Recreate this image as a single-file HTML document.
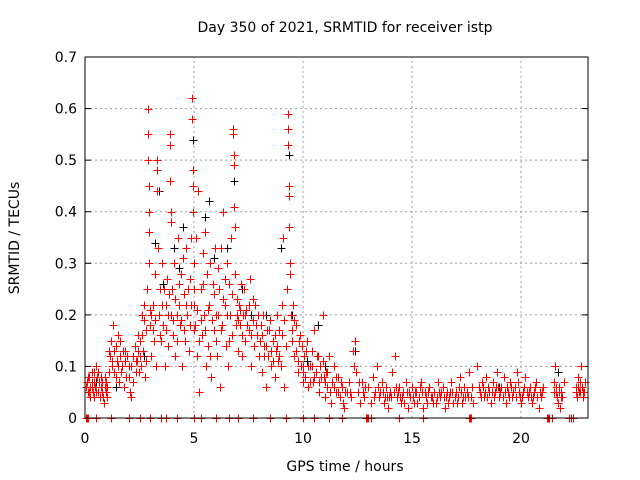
<!DOCTYPE html>
<html><head><meta charset="utf-8"><style>
body{margin:0;background:#fff}
svg{display:block;font-family:"DejaVu Sans","Liberation Sans",sans-serif}
</style></head><body>
<svg id="chart" width="640" height="480" viewBox="0 0 640 480">
<rect width="640" height="480" fill="#fff"/>
<text x="345" y="32" font-size="14" text-anchor="middle">Day 350 of 2021, SRMTID for receiver istp</text>
<text x="345" y="471" font-size="14" text-anchor="middle">GPS time / hours</text>
<text transform="translate(19,238) rotate(-90)" font-size="14" text-anchor="middle">SRMTID / TECUs</text>
<g id="grid"></g><g id="ticks"></g><g id="blk"></g><g id="red"></g>
<rect x="85" y="57" width="503" height="361" fill="none" stroke="#000" stroke-width="1"/>
</svg>
<script>
const xTicks=[0,5,10,15,20];
const yTicks=[0,0.1,0.2,0.3,0.4,0.5,0.6,0.7];
const yTickLabels=["0","0.1","0.2","0.3","0.4","0.5","0.6","0.7"];
const blackData=[[0.5,.07],[1.4,.06],[2.7,.12],[3.2,.34],[3.4,.44],[4.1,.33],[4.5,.37],[4.95,.54],[5.5,.39],[5.7,.42],[6.5,.33],[6.85,.46],[7.2,.25],[8.3,.2],[9.0,.33],[9.35,.51],[9.5,.2],[10.7,.18],[11.0,.1],[12.4,.13],[21.7,.09],[3.6,.26],[4.3,.29],[5.9,.31],[7.6,.2],[10.2,.11],[16,.05],[19,.06]];
const redData=[[0.05,.06],[0.1,.07],[0.15,.05],[0.2,.08],[0.25,.06],[0.3,.09],[0.35,.05],[0.4,.07],[0.45,.06],[0.5,.1],[0.55,.08],[0.6,.05],[0.65,.07],[0.7,.04],[0.75,.06],[0.8,.05],[0.85,.03],[0.9,.06],[0.95,.05],[1.0,.04],[0.2,.05],[0.4,.04],[0.6,.09],[0.8,.07],[1.0,.06],[0.3,.07],
[1.1,.09],[1.15,.12],[1.2,.15],[1.25,.1],[1.3,.18],[1.35,.13],[1.4,.08],[1.45,.11],[1.5,.16],[1.55,.07],[1.6,.12],[1.65,.09],[1.7,.1],[1.8,.06],[1.85,.13],[1.9,.08],[2.0,.1],[2.05,.05],[2.1,.04],[2.2,.12],[2.3,.14],[2.35,.09],[2.4,.11],[2.45,.13],
[2.5,.15],[2.55,.1],[2.6,.2],[2.65,.13],[2.7,.22],[2.75,.08],[2.8,.17],[2.85,.25],[2.9,.6],[2.9,.55],[2.9,.5],[2.92,.45],[2.93,.4],[2.95,.36],[2.95,.3],[2.97,.21],[3.0,.18],
[3.05,.12],[3.1,.22],[3.15,.15],[3.2,.28],[3.25,.1],[3.3,.5],[3.3,.48],[3.32,.44],[3.35,.33],[3.4,.2],[3.45,.25],[3.5,.15],[3.55,.3],[3.6,.18],[3.65,.1],[3.7,.22],[3.75,.27],[3.8,.14],[3.9,.55],[3.9,.53],[3.92,.46],[3.93,.4],[3.95,.38],[3.95,.2],[4.0,.25],
[4.05,.16],[4.1,.3],[4.15,.12],[4.2,.2],[4.25,.35],[4.3,.22],[4.35,.18],[4.4,.28],[4.45,.1],[4.5,.31],[4.55,.24],[4.6,.15],[4.65,.33],[4.7,.2],[4.75,.13],[4.8,.27],[4.85,.35],[4.9,.62],[4.92,.58],[4.95,.48],[4.95,.45],[4.97,.4],[5.0,.3],[5.0,.22],
[5.05,.18],[5.1,.35],[5.15,.12],[5.2,.44],[5.25,.05],[5.3,.25],[5.35,.16],[5.4,.32],[5.45,.2],[5.5,.36],[5.55,.1],[5.6,.28],[5.65,.14],[5.7,.22],[5.75,.3],[5.8,.08],[5.85,.26],[5.9,.17],[5.95,.33],[6.0,.2],
[6.05,.12],[6.1,.29],[6.15,.25],[6.2,.06],[6.25,.33],[6.3,.18],[6.35,.4],[6.4,.22],[6.45,.14],[6.5,.3],[6.55,.1],[6.6,.26],[6.65,.2],[6.7,.35],[6.75,.16],[6.8,.56],[6.8,.55],[6.82,.51],[6.82,.49],[6.85,.41],[6.87,.37],[6.9,.28],[6.95,.2],[7.0,.13],
[7.05,.22],[7.1,.18],[7.15,.26],[7.2,.12],[7.25,.2],[7.3,.25],[7.35,.15],[7.4,.21],[7.5,.17],[7.55,.27],[7.6,.1],[7.7,.19],[7.75,.14],[7.8,.22],[7.9,.16],[8.0,.12],
[8.05,.18],[8.1,.09],[8.15,.2],[8.2,.14],[8.3,.06],[8.35,.17],[8.4,.12],[8.5,.19],[8.55,.1],[8.6,.15],[8.7,.08],[8.75,.13],[8.8,.2],[8.85,.11],[8.9,.17],[9.0,.1],[9.05,.22],[9.1,.35],[9.15,.06],
[9.3,.59],[9.3,.56],[9.32,.53],[9.35,.45],[9.35,.43],[9.37,.37],[9.4,.3],[9.42,.28],[9.25,.25],[9.45,.2],[9.5,.15],[9.55,.22],[9.6,.12],[9.7,.18],[9.75,.09],[9.8,.15],[9.9,.1],[9.95,.14],[10.0,.07],
[10.05,.12],[10.1,.08],[10.2,.15],[10.25,.06],[10.3,.1],[10.4,.13],[10.45,.07],[10.5,.17],[10.6,.09],[10.7,.12],[10.75,.05],[10.8,.1],[10.9,.2],[10.95,.08],[11.0,.04],
[11.05,.09],[11.1,.06],[11.2,.12],[11.3,.03],[11.35,.07],[11.4,.1],[11.5,.05],[11.6,.08],[11.7,.04],[11.8,.06],[11.9,.02],[12.0,.05],
[12.1,.07],[12.2,.04],[12.3,.13],[12.4,.15],[12.45,.09],[12.5,.05],[12.6,.03],[12.7,.07],[12.8,.04],[13.0,.06],[13.1,.03],[13.2,.08],[13.3,.05],[13.4,.1],[13.5,.04],[13.6,.07],[13.7,.03],[13.8,.06],[13.9,.02],[14.0,.05],
[14.1,.09],[14.2,.12],[14.3,.04],[14.4,.06],[14.5,.03],[14.6,.05],[14.7,.07],[14.8,.02],[14.9,.04],[15.0,.06],[15.1,.03],[15.2,.05],[15.3,.04],[15.4,.07],[15.5,.02],[15.6,.05],[15.7,.03],[15.8,.06],[15.9,.04],[16.0,.05],[16.1,.03],[16.2,.07],[16.3,.04],[16.4,.06],[16.5,.02],[16.6,.05],[16.7,.04],[16.8,.07],[16.9,.03],[17.0,.05],[17.1,.04],[17.2,.08],[17.3,.03],[17.4,.06],[17.5,.05],[17.6,.09],[17.7,.04],[17.8,.03],[18.0,.1],[18.1,.05],[18.2,.07],[18.3,.04],[18.4,.08],[18.5,.06],[18.6,.03],[18.7,.07],[18.8,.05],[18.9,.09],[19.0,.04],[19.1,.06],[19.2,.08],[19.3,.03],[19.4,.05],[19.5,.07],[19.6,.04],[19.7,.06],[19.8,.09],[19.9,.05],[20.0,.03],
[14.15,.05],[14.45,.04],[14.75,.05],[15.05,.04],[15.35,.06],[15.65,.04],[15.95,.03],[16.25,.05],[16.55,.04],[16.85,.05],[17.15,.06],[17.45,.04],[17.75,.06],[18.05,.06],[18.35,.05],[18.65,.05],[18.95,.06],[19.25,.05],[19.55,.06],[19.85,.07],
[20.1,.05],[20.2,.08],[20.3,.04],[20.4,.06],[20.5,.03],[20.6,.05],[20.7,.07],[20.8,.02],[20.9,.04],[21.0,.06],[20.25,.05],[20.55,.04],
[21.5,.07],[21.55,.1],[21.6,.05],[21.65,.04],[21.7,.03],[21.75,.06],[21.8,.02],[21.85,.05],[21.9,.04],[21.95,.07],
[22.5,.06],[22.55,.04],[22.6,.08],[22.65,.05],[22.7,.07],[22.75,.1],[22.8,.06],[22.85,.04],[22.9,.05]];
const redData2=[[0.12,.08],[0.22,.04],[0.32,.06],[0.42,.09],[0.52,.05],[0.62,.07],[0.72,.08],[0.82,.04],[0.92,.08],[0.97,.07],
[1.12,.13],[1.22,.11],[1.32,.09],[1.42,.14],[1.52,.1],[1.62,.15],[1.72,.13],[1.82,.11],[1.92,.12],[2.02,.08],[2.12,.1],[2.22,.07],[2.32,.11],[2.42,.16],[2.48,.09],
[2.52,.12],[2.62,.16],[2.72,.19],[2.82,.11],[3.02,.2],[3.12,.17],[3.22,.19],[3.42,.16],[3.52,.22],[3.62,.25],[3.72,.17],[3.82,.2],[3.85,.24],[4.02,.19],[4.12,.23],[4.22,.15],[4.32,.26],[4.42,.19],[4.52,.17],[4.62,.22],[4.72,.25],[4.82,.18],[4.87,.22],[4.98,.17],
[5.02,.25],[5.12,.21],[5.22,.15],[5.32,.19],[5.42,.26],[5.52,.17],[5.62,.21],[5.72,.12],[5.82,.19],[5.92,.24],[6.02,.15],[6.12,.2],[6.22,.17],[6.32,.23],[6.42,.27],[6.52,.2],[6.62,.15],[6.72,.24],[6.92,.18],[6.97,.23],
[7.02,.19],[7.12,.21],[7.22,.16],[7.32,.2],[7.42,.18],[7.52,.22],[7.62,.16],[7.72,.23],[7.82,.18],[7.92,.2],[8.02,.15],[8.12,.16],[8.22,.12],[8.32,.14],[8.42,.17],[8.52,.13],[8.62,.11],[8.72,.16],[8.82,.14],[8.92,.12],[9.02,.16],[9.12,.19],[9.22,.14],[9.48,.17],[9.58,.19],[9.68,.13],[9.78,.11],[9.88,.16],[9.98,.1],
[10.02,.09],[10.12,.13],[10.22,.1],[10.32,.07],[10.42,.1],[10.52,.08],[10.62,.12],[10.72,.07],[10.82,.08],[10.92,.11],[11.02,.07],[11.12,.09],[11.22,.05],[11.42,.06],[11.52,.08],[11.62,.05],[11.72,.07],[11.82,.03],[11.92,.05],
[12.15,.05],[12.35,.1],[12.55,.07],[12.75,.05],[12.85,.06],[13.25,.04],[13.45,.06],[13.55,.05],[13.65,.05],[13.75,.04],[13.85,.04],[13.95,.04],
[14.05,.04],[14.25,.06],[14.35,.05],[14.55,.04],[14.65,.03],[14.85,.05],[15.15,.05],[15.25,.03],[15.45,.05],[15.75,.05],[15.85,.04],[16.15,.04],[16.35,.05],[16.45,.04],[16.65,.03],[16.75,.05],[16.95,.04],[17.05,.03],[17.25,.05],[17.35,.04],[17.55,.04],[18.15,.04],[18.25,.06],[18.45,.04],[18.55,.05],[18.75,.04],[18.85,.06],[19.05,.05],[19.15,.04],[19.35,.06],[19.45,.04],[19.65,.05],[19.75,.04],[19.95,.04],
[20.05,.04],[20.15,.06],[20.35,.05],[20.45,.04],[20.65,.06],[20.75,.04],[20.85,.05],[20.95,.05],[21.52,.05],[21.62,.06],[21.72,.05],[21.82,.04],[22.52,.05],[22.62,.06],[22.72,.05],[22.82,.05],[22.92,.07]];
const zeroHours=[0.05,0.1,0.15,0.5,1.2,2.0,2.5,3.0,3.5,3.7,4.2,5.0,5.3,6.0,6.6,7.0,7.7,8.5,9.2,10.0,10.5,11.2,11.8,12.9,12.95,13.0,13.1,14.4,15.5,17.6,17.65,17.7,21.2,21.25,21.3,21.4,22.2,22.3,22.4];
const NS="http://www.w3.org/2000/svg";
const X0=85,X1=588,Y0=418,Y1=57,XMAX=23.07,YMAX=0.7;
function xs(h){return X0+(X1-X0)*h/XMAX;}
function ys(v){return Y0-(Y0-Y1)*v/YMAX;}
function mk(tag,attrs,parent){const e=document.createElementNS(NS,tag);for(const k in attrs)e.setAttribute(k,attrs[k]);parent.appendChild(e);return e;}
const grid=document.getElementById('grid'),ticks=document.getElementById('ticks');
yTicks.forEach((v,i)=>{
  const y=ys(v);
  if(i>0&&i<yTicks.length-1){const g=mk('line',{x1:X0,x2:X1,y1:y,y2:y,stroke:'#a0a0a0','stroke-dasharray':'2,3'},grid);
  
  }
  const t=mk('text',{x:77,y:y+5,'font-size':14,'text-anchor':'end'},ticks);t.textContent=yTickLabels[i];
  
  
  mk('line',{x1:X0,x2:X0+6,y1:y,y2:y,stroke:'#000'},ticks);
  mk('line',{x1:X1,x2:X1-6,y1:y,y2:y,stroke:'#000'},ticks);
});
xTicks.forEach(h=>{
  const x=xs(h);
  if(h>0){const g=mk('line',{x1:x,x2:x,y1:Y0,y2:Y1,stroke:'#a0a0a0','stroke-dasharray':'2,3'},grid);
  
  }
  const t=mk('text',{x:x,y:443,'font-size':14,'text-anchor':'middle'},ticks);t.textContent=String(h);
  
  
});
function plus(g,h,v,col){
  const x=Math.round(xs(h))+0.5,y=Math.round(ys(v))+0.5;
  return mk('path',{d:`M${x-4} ${y}H${x+4}M${x} ${y-4}V${y+4}`,stroke:col,'stroke-width':1,fill:'none'},g);
}
const blk=document.getElementById('blk'),red=document.getElementById('red');
blackData.forEach(d=>{const p=plus(blk,d[0],d[1],'#000');
  
  });
redData.forEach(d=>{const p=plus(red,d[0],d[1],'#ff0000');
  
  });
redData2.forEach(d=>{const p=plus(red,d[0],d[1],'#ff0000');
  
  });
zeroHours.forEach(h=>{const p=plus(red,h,0,'#ff0000');
  
  });
</script>
</body></html>
